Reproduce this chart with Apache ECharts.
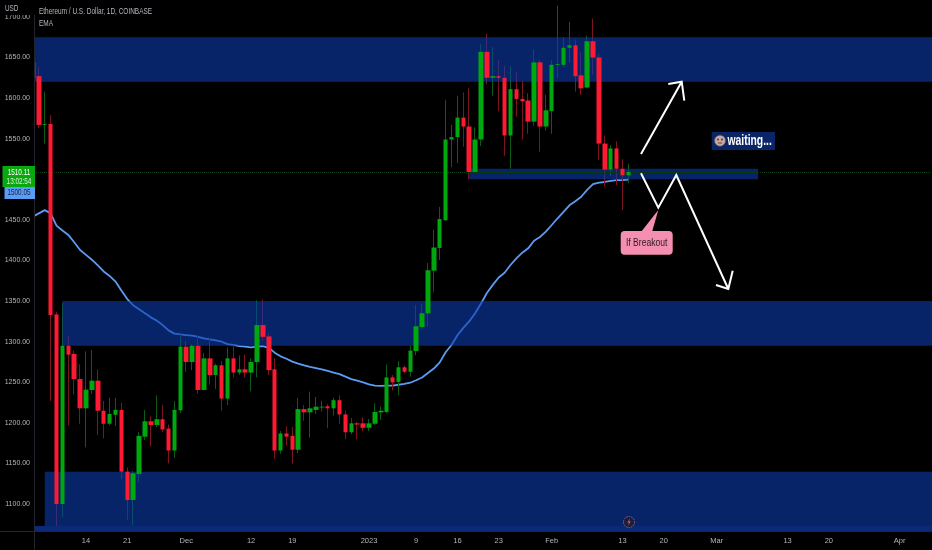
<!DOCTYPE html>
<html>
<head>
<meta charset="utf-8">
<style>html,body{margin:0;background:#000}#main{width:932px;height:550px}</style>
<script src="https://cdn.jsdelivr.net/npm/echarts@6/dist/echarts.min.js"></script>
</head>
<body>
<div id="main"></div>
<script>
// daily candles, 5 Nov 2022 to 14 Feb 2023
var opens = [1644,1627,1567,1568,1333.6,1100,1295,1285,1254,1218,1240.5,1252,1215,1199,1210,1216,1140,1105,1137,1183,1202,1197.5,1204.5,1193,1166,1215.5,
  1294,1275,1295,1240.5,1279.5,1259,1271,1230,1279.5,1262,1266,1262,1275,1320.5,1306.5,1266,1166,1187,1184,1167,1217,1213,1216,1219,1220.5,1218,1228,1210.5,1188.5,1199.5,1199.5,
  1194,1199,1213,1213.5,1256,1250.5,1268.5,1263,1288.5,1318,1335,1387.5,1415.5,1449.5,1549,1552,1576,1565,1509,1549,1657,1625,1627,1625,1554,1611,1599,1597,1571,1644,1565,
  1584,1641,1641,1662,1665,1628,1613,1670,1650,1544,1512,1538,1513,1505];
var closes = [1625,1567,1568,1333,1100,1295,1284,1254,1218,1241,1252,1215,1199,1211,1216,1140,1105,1138,1184,1202,1197.5,1204.5,1192,1166,1216,1294,
  1275,1295,1240.5,1279.5,1259,1271,1230,1279.5,1262,1266,1262,1275,1320.5,1306,1265,1166,1187,1183,1167,1217,1213,1218,1220,1220,1218,1228,1210.5,1188.5,1199.5,1198,1194,
  1199.5,1213.5,1215,1256,1250,1268.5,1263,1289,1319,1335,1388,1416,1451,1549,1552,1576,1565,1509,1549,1657,1625,1627,1625,1554,1611,1599,1596,1571,1644,1565,1585,
  1641,1642,1662,1665,1627,1612,1670,1650,1544,1512,1538,1513,1505,1509];
var lows = [1625,1563,1544,1227,1071,1084,1197,1235,1199,1170,1236,1185,1181,1197,1196,1131,1081,1074,1127,1179,1171,1195,1188.5,1150,1157,1212,
  1263,1265,1236,1240.5,1247,1242,1215,1222,1256,1259,1256,1239,1256,1301,1259,1156,1162,1172,1150,1163,1202.5,1182,1211,1214,1193.5,1209,1199,1180,1186,1180,1190,
  1190,1197.5,1203.5,1212,1240,1234,1261,1257,1283.5,1316,1319,1361,1400.6,1449,1515,1520,1540,1500,1509,1541,1617,1603,1584,1529,1513,1577,1549,1556,1566,1534,1560,
  1556,1625,1638,1644,1608,1604,1612,1629,1524,1491,1504,1493,1462,1495];
var highs = [1644,1638,1608,1579,1337,1348,1307,1289,1272,1288,1290,1266,1227,1231,1231,1225,1145,1141,1189,1216,1208,1234,1222,1198,1227,1311,
  1301,1297,1308,1286,1305,1273,1276,1293,1296,1283,1284,1279.5,1351,1352,1311,1279.5,1190,1196,1195,1231,1222,1238.5,1232,1227,1223,1231,1234,1215,1206,1201.5,1207,
  1205,1224,1220,1272,1259,1276,1271,1295,1345,1347,1397,1438,1466,1597.5,1567,1603,1607,1612,1564,1667,1679,1663,1647,1640,1639,1632,1621,1606,1660,1647,1604,
  1647,1714,1675,1694,1672,1657,1677,1698,1655,1554,1542,1547,1525,1519];
var ema = [1454,1458,1462,1458,1443,1437,1431.5,1422.5,1413,1407,1401,1394,1386.5,1381,1374,1363,1352.5,1345,1340,1335,1330,1326,1320.5,1314,1310,1309,
  1308,1307.5,1306,1304,1303,1301.5,1300,1297,1296,1294.5,1294,1293,1294,1294.5,1292.5,1286.5,1282,1279,1275.5,1273,1271,1269,1267.5,1266,1264,1262,1260,1257,1254,1252,1250,
  1247.5,1246,1245.5,1246,1246,1247,1248,1249.5,1252.5,1256,1261.5,1267,1274.5,1287,1296,1308,1317,1325,1335,1347,1360,1370,1379,1385,1394.5,1402.7,1409.6,1415,1424.4,1429,1435.5,
  1443.7,1452,1460,1468,1473,1478.5,1487,1494,1496,1496.7,1498,1499,1499,1499.5];

var yTicks = [1100,1150,1200,1250,1300,1350,1400,1450,1550,1600,1650,1700];
var tickDates = ['2022-11-14','2022-11-21','2022-12-01','2022-12-12','2022-12-19','2023-01-01','2023-01-09','2023-01-16','2023-01-23','2023-02-01','2023-02-13','2023-02-20','2023-03-01','2023-03-13','2023-03-20','2023-04-01'];
var tickLabels = ['14','21','Dec','12','19','2023','9','16','23','Feb','13','20','Mar','13','20','Apr'];

// blue boxes: from date, to date, top price, bottom price (null = edge of chart)
var zones = [
  [null,null,1675,1620],
  ['2023-01-18','2023-03-08',1513,1500],
  ['2022-11-10',null,1350,1295],
  ['2022-11-07',null,1140,1066.9]
];
var bottomStrip = [1073,1066.9];
var lastPrice = 1509;

var dates = [];
for (var d = Date.UTC(2022,10,5); dates.length < 153; d += 86400000) {
  dates.push(new Date(d).toISOString().slice(0,10));
}

var wickData = [], bodyData = [];
for (var i = 0; i < opens.length; i++) {
  wickData.push([opens[i],closes[i],lows[i],highs[i]]);
  bodyData.push([opens[i],closes[i],Math.min(opens[i],closes[i]),Math.max(opens[i],closes[i])]);
}

var zoneFill = 'rgba(13,60,175,0.6)';
var areaData = zones.map(function(z){
  var a = {yAxis:z[2], itemStyle:{color:zoneFill}}, b = {yAxis:z[3]};
  if (z[0]) a.xAxis = z[0];
  if (z[1]) b.xAxis = z[1];
  return [a,b];
});
areaData.push([{yAxis:bottomStrip[0], itemStyle:{color:'#0a2a78'}},{yAxis:bottomStrip[1]}]);

var FONT = '"Liberation Sans",sans-serif';
var GREY = '#b2b5be';

// the reference text is narrow, so graphic labels are squeezed with scaleX
function label(txt,x,y,size,color,sx,align,weight){
  return {type:'text',z:50,silent:true,x:x,y:y,scaleX:sx,
    style:{text:txt,x:0,y:0,font:(weight||'normal')+' '+size+'px '+FONT,fill:color,align:align||'left',verticalAlign:'middle'}};
}
function arrow(points){
  return {type:'polyline',z:45,silent:true,shape:{points:points},style:{stroke:'#fff',lineWidth:2,fill:null,lineJoin:'miter'}};
}

var graphics = [
  {type:'rect',z:10,silent:true,shape:{x:0,y:0,width:35,height:550},style:{fill:'#000'}},
  {type:'rect',z:30,silent:true,shape:{x:0,y:0,width:35,height:15},style:{fill:'#000'}},
  {type:'line',z:11,silent:true,shape:{x1:34.5,y1:0,x2:34.5,y2:550},style:{stroke:'#22252e',lineWidth:1}},
  {type:'line',z:11,silent:true,shape:{x1:0,y1:531.5,x2:932,y2:531.5},style:{stroke:'#22252e',lineWidth:1}},
  label('USD',5,9,8.5,GREY,0.75),
  label('Ethereum / U.S. Dollar, 1D, COINBASE',39,11,9.5,GREY,0.68),
  label('EMA',39,23,9.5,GREY,0.68),
  // price tags on the axis
  {type:'rect',z:30,silent:true,shape:{x:2.5,y:166,width:32.5,height:21},style:{fill:'#0aa80f'}},
  {type:'rect',z:30,silent:true,shape:{x:4.5,y:187,width:30.5,height:12},style:{fill:'#5b9cf6'}},
  label('1510.11',19,172.5,8.5,'#fff',0.75,'center'),
  label('13:02:54',19,181.5,8.5,'#d8f0d8',0.75,'center'),
  label('1500.05',19,193,8.5,'#13233f',0.75,'center'),
  // arrows
  arrow([[641,154],[681.7,81.7]]),
  arrow([[668.3,84],[681.7,81.7],[684.3,100.7]]),
  arrow([[641,173.3],[658.3,207.7],[676.3,175],[728.3,289]]),
  arrow([[716,285],[728.3,289],[732.7,270.7]]),
  // callout
  {type:'polygon',z:46,silent:true,shape:{points:[[658.3,210],[641,232],[652,232]]},style:{fill:'#f48fb1'}},
  {type:'rect',z:46,silent:true,shape:{x:620.7,y:231,width:52,height:23.7,r:4},style:{fill:'#f48fb1'}},
  label('If Breakout',646.7,243,11,'#2a1a20',0.78,'center'),
  // waiting tag
  {type:'rect',z:46,silent:true,shape:{x:711.7,y:132,width:63.3,height:18},style:{fill:'#0a2468'}},
  {type:'circle',z:47,silent:true,shape:{cx:720,cy:140.7,r:5.5},style:{fill:'#c9a8a4',stroke:'#555',lineWidth:0.6}},
  {type:'circle',z:48,silent:true,shape:{cx:718,cy:139.5,r:1.1},style:{fill:'#3d4a66'}},
  {type:'circle',z:48,silent:true,shape:{cx:722,cy:139.5,r:1.1},style:{fill:'#3d4a66'}},
  {type:'line',z:48,silent:true,shape:{x1:718,y1:143,x2:722,y2:143},style:{stroke:'#8a3030',lineWidth:1}},
  label('waiting...',727.5,141,14,'#fff',0.74,'left','bold'),
  // lightning marker
  {type:'circle',z:46,silent:true,shape:{cx:629,cy:522,r:5.5},style:{fill:'#16203a',stroke:'#b05a78',lineWidth:1,lineDash:[1.5,1]}},
  {type:'polygon',z:47,silent:true,shape:{points:[[630.2,518.2],[627.3,522.6],[629,522.6],[627.9,525.8],[630.8,521.4],[629.1,521.4]]},style:{fill:'#e8506e'}}
];

var option = {
  backgroundColor:'#000',
  animation:false,
  grid:{left:30,right:0,top:0,bottom:19},
  xAxis:{
    type:'category',
    data:dates,
    boundaryGap:true,
    axisLine:{show:false},
    axisTick:{show:false},
    splitLine:{show:false},
    axisLabel:{
      color:GREY,fontSize:7.5,fontFamily:FONT,margin:6,
      interval:function(i,v){return tickDates.indexOf(v) >= 0;},
      formatter:function(v){return tickLabels[tickDates.indexOf(v)];}
    }
  },
  yAxis:{
    type:'value',
    z:20,
    min:1066.9,
    max:1720.8,
    axisLine:{show:false},
    axisTick:{show:false},
    splitLine:{show:false},
    axisLabel:{
      color:GREY,fontSize:7,fontFamily:FONT,margin:0,
      customValues:yTicks,
      formatter:function(v){return v.toFixed(2);}
    }
  },
  graphic:{elements:graphics},
  series:[
    {
      name:'wick',type:'candlestick',z:1,barWidth:1,silent:true,
      // color is the rising candle, color0 the falling one
      itemStyle:{color:'#0c5c16',color0:'#7d1422',borderColor:'#0c5c16',borderColor0:'#7d1422',borderWidth:1},
      data:wickData,
      markArea:{z:2,silent:true,label:{show:false},data:areaData},
      markLine:{z:2,silent:true,symbol:'none',label:{show:false},lineStyle:{color:'#0a3d10',type:'dotted',width:1},data:[{yAxis:lastPrice}]}
    },
    {
      name:'EMA',type:'line',z:1,data:ema,showSymbol:false,smooth:false,
      lineStyle:{color:'#5b9cf6',width:1.8},silent:true
    },
    {
      name:'body',type:'candlestick',z:3,barWidth:5,silent:true,
      itemStyle:{color:'#00a80f',color0:'#ff1a33',borderColor:'#00a80f',borderColor0:'#ff1a33',borderWidth:0},
      data:bodyData
    }
  ]
};

var myChart = echarts.init(document.getElementById('main'));
myChart.setOption(option);
</script>
</body>
</html>
